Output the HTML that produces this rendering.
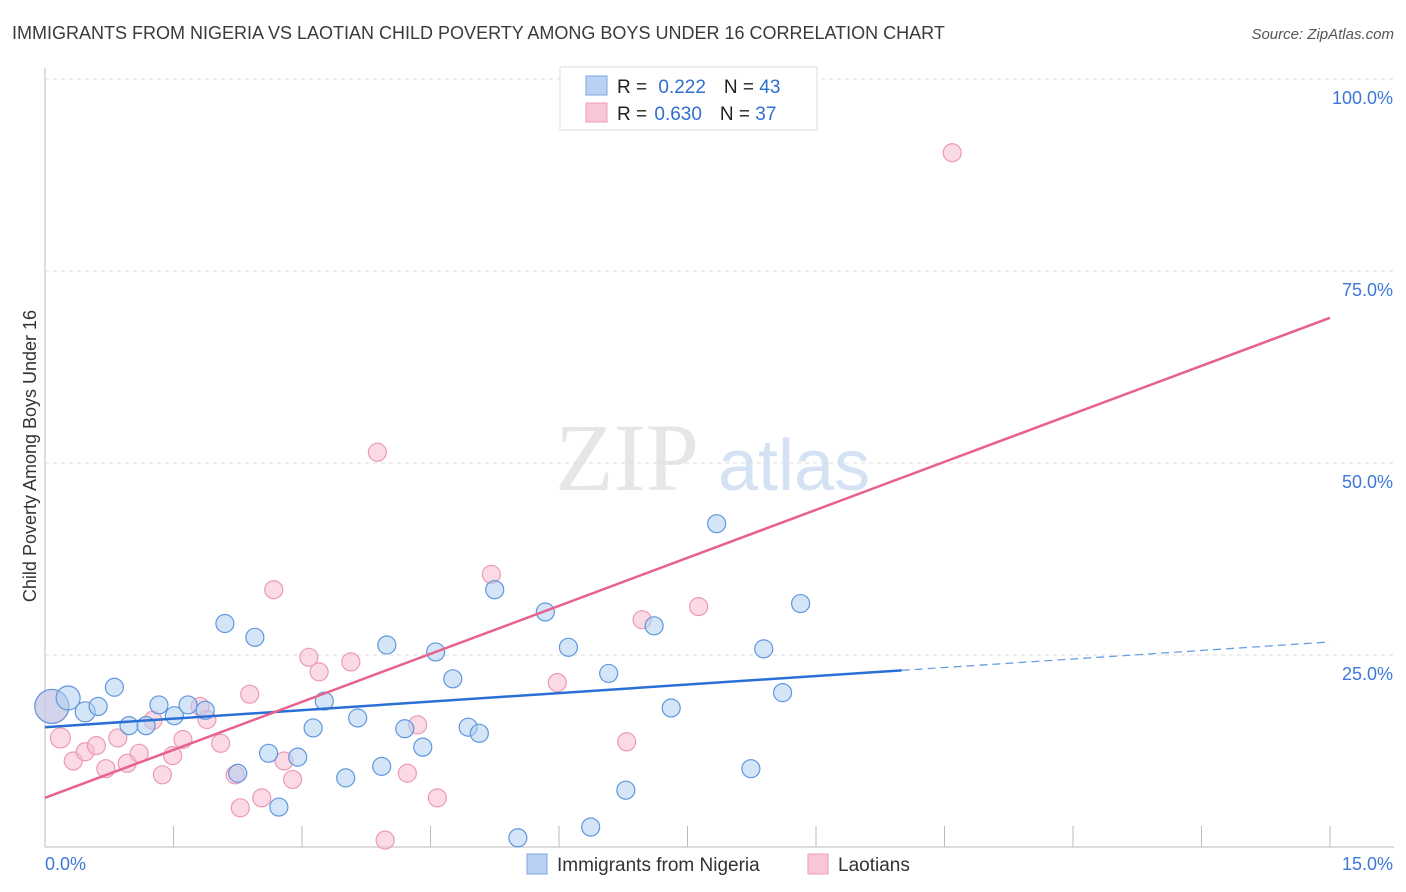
<!DOCTYPE html>
<html><head><meta charset="utf-8"><style>
body{margin:0;background:#fff;font-family:"Liberation Sans",sans-serif;}
svg{display:block}
</style></head><body>
<svg id="chart" width="1406" height="892">
<text x="12" y="39" font-size="18" fill="#3a3a3a">IMMIGRANTS FROM NIGERIA VS LAOTIAN CHILD POVERTY AMONG BOYS UNDER 16 CORRELATION CHART</text>
<text x="1394" y="39" font-size="15" fill="#555" font-style="italic" text-anchor="end">Source: ZipAtlas.com</text>
<text x="36" y="456" font-size="18" fill="#333" text-anchor="middle" transform="rotate(-90 36 456)">Child Poverty Among Boys Under 16</text>
<text x="555" y="490" font-size="96" fill="#e6e6e6" font-family="Liberation Serif,serif">ZIP</text>
<text x="718" y="490" font-size="72" fill="#d4e2f4">atlas</text>
<g id="grid"></g><g id="marks"></g>
<g>
<rect x="560" y="67" width="257" height="63" fill="#fff" stroke="#ddd"/>
<rect x="586" y="76" width="21" height="19" fill="#b9d2f3" stroke="#7aa6e2"/>
<rect x="586" y="103" width="21" height="19" fill="#f9c6d6" stroke="#ee9db7"/>
<text x="617" y="93" font-size="19" fill="#222">R = <tspan fill="#2f6fd0" dx="6">0.222</tspan><tspan dx="18" fill="#222">N = </tspan><tspan fill="#2f6fd0">43</tspan></text>
<text x="617" y="120" font-size="19" fill="#222">R = <tspan fill="#2f6fd0" dx="2">0.630</tspan><tspan dx="18" fill="#222">N = </tspan><tspan fill="#2f6fd0">37</tspan></text>
</g>
<g>
<rect x="527" y="854" width="20" height="20" fill="#b9d2f3" stroke="#7aa6e2"/>
<text x="557" y="871" font-size="19" fill="#333">Immigrants from Nigeria</text>
<rect x="808" y="854" width="20" height="20" fill="#f9c6d6" stroke="#ee9db7"/>
<text x="838" y="871" font-size="19" fill="#333">Laotians</text>
</g>
</svg>
<script>
const xTicks=[0,1,2,3,4,5,6,7,8,9,10];
const xTickLabels=["0.0%","15.0%"];
const yTicks=[25,50,75,100];
const yTickLabels=["25.0%","50.0%","75.0%","100.0%"];
const blueX=[0.08,0.27,0.47,0.62,0.81,0.98,1.18,1.33,1.51,1.67,1.87,2.10,2.25,2.45,2.61,2.73,2.95,3.13,3.26,3.51,3.65,3.93,3.99,4.20,4.41,4.56,4.76,4.94,5.07,5.25,5.52,5.84,6.11,6.37,6.58,6.78,7.11,7.31,7.84,8.24,8.39,8.61,8.82];
const blueY=[18.3,19.4,17.6,18.3,20.8,15.8,15.8,18.5,17.1,18.5,17.8,29.1,9.6,27.3,12.2,5.2,11.7,15.5,19.0,9.0,16.8,10.5,26.3,15.4,13.0,25.4,21.9,15.6,14.8,33.5,1.2,30.6,26.0,2.6,22.6,7.4,28.8,18.1,42.1,10.2,25.8,20.1,31.7];
const blueR=[17,12,10,9,9,9,9,9,9,9,9,9,9,9,9,9,9,9,9,9,9,9,9,9,9,9,9,9,9,9,9,9,9,9,9,9,9,9,9,9,9,9,9];
const pinkX=[0.08,0.18,0.33,0.47,0.60,0.71,0.85,0.96,1.10,1.26,1.37,1.49,1.61,1.81,1.89,2.05,2.22,2.28,2.39,2.53,2.67,2.79,2.89,3.08,3.20,3.57,3.88,3.97,4.23,4.35,4.58,5.21,5.98,6.79,6.97,7.63,10.59];
const pinkY=[18.3,14.2,11.2,12.4,13.2,10.2,14.2,10.9,12.2,16.5,9.4,11.9,14.0,18.3,16.6,13.5,9.4,5.1,19.9,6.4,33.5,11.2,8.8,24.7,22.8,24.1,51.4,0.9,9.6,15.9,6.4,35.5,21.4,13.7,29.6,31.3,90.4];
const pinkR=[17,10,9,9,9,9,9,9,9,9,9,9,9,9,9,9,9,9,9,9,9,9,9,9,9,9,9,9,9,9,9,9,9,9,9,9,9];
const blueTrend=[15.6,26.7]; const blueSolidEnd=10.0;
const pinkTrend=[6.4,68.9];
const xs=v=>45+v*(1285/15), ys=v=>847-v*7.68;
const NS="http://www.w3.org/2000/svg";
const grid=document.getElementById('grid'), marks=document.getElementById('marks');
function mk(tag,attrs,parent){const e=document.createElementNS(NS,tag);for(const k in attrs)e.setAttribute(k,attrs[k]);parent.appendChild(e);return e;}
mk('line',{x1:45,y1:68,x2:45,y2:847,stroke:'#bbb'},grid);
mk('line',{x1:45,y1:847,x2:1394,y2:847,stroke:'#bbb'},grid);
yTicks.forEach((t,i)=>{
 const g=mk('line',{x1:45,y1:ys(t),x2:1394,y2:ys(t),stroke:'#ddd','stroke-dasharray':'4,4'},grid);
 
 
 const l=mk('text',{x:1393,y:ys(t)+25,'font-size':18,fill:'#3d78d6','text-anchor':'end'},grid);l.textContent=yTickLabels[i];
 
 
});
mk('line',{x1:45,y1:79,x2:1394,y2:79,stroke:'#ddd','stroke-dasharray':'4,4'},grid);
xTicks.forEach(t=>{const x=xs(t*1.5);const tk=mk('line',{x1:x,y1:826,x2:x,y2:847,stroke:'#bbb'},grid);
 
 });
const xl0=mk('text',{x:45,y:870,'font-size':18,fill:'#3d78d6'},grid);xl0.textContent=xTickLabels[0];


const xl1=mk('text',{x:1393,y:870,'font-size':18,fill:'#3d78d6','text-anchor':'end'},grid);xl1.textContent=xTickLabels[1];


function pts(X,Y,R,fill,stroke,name){X.forEach((x,i)=>{const c=mk('circle',{cx:xs(x),cy:ys(Y[i]),r:R[i],fill:fill,'fill-opacity':0.55,stroke:stroke,'stroke-width':1.2},marks);
 
 });}
pts(pinkX,pinkY,pinkR,'#f7bccf','#ec9ab4','laotians-point');
pts(blueX,blueY,blueR,'#b3cff2','#5f97de','nigeria-point');
const bAt=x=>blueTrend[0]+(blueTrend[1]-blueTrend[0])*x/15;
const pAt=x=>pinkTrend[0]+(pinkTrend[1]-pinkTrend[0])*x/15;
const bl=mk('line',{x1:xs(0),y1:ys(bAt(0)),x2:xs(blueSolidEnd),y2:ys(bAt(blueSolidEnd)),stroke:'#2a6fd6','stroke-width':2.5},marks);


const bd=mk('line',{x1:xs(blueSolidEnd),y1:ys(bAt(blueSolidEnd)),x2:xs(15),y2:ys(bAt(15)),stroke:'#6a9ee0','stroke-width':1.3,'stroke-dasharray':'8,5'},marks);


const pl=mk('line',{x1:xs(0),y1:ys(pAt(0)),x2:xs(15),y2:ys(pAt(15)),stroke:'#e8608e','stroke-width':2.5},marks);


</script>
</body></html>
